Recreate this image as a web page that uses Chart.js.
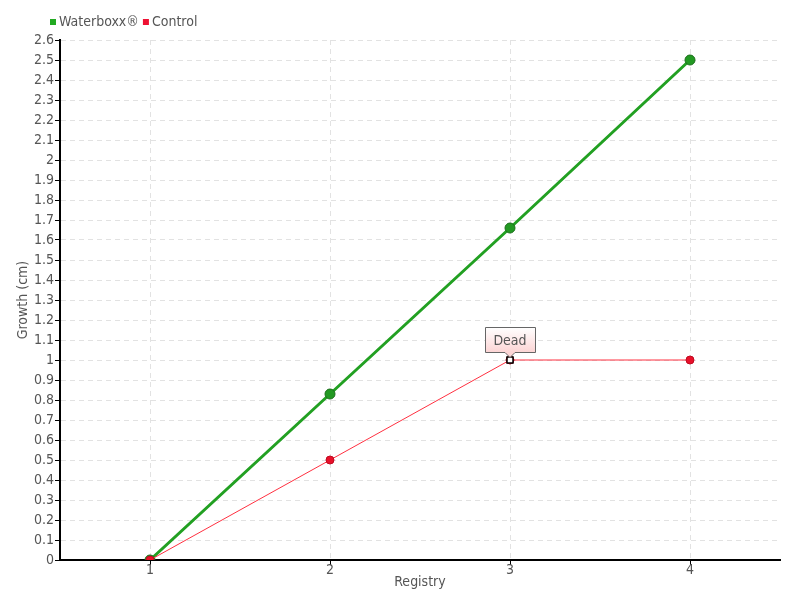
<!DOCTYPE html>
<html>
<head>
<meta charset="utf-8">
<script src="https://cdn.jsdelivr.net/npm/chart.js@4/dist/chart.umd.min.js"></script>
<style>
  html, body { margin: 0; padding: 0; background: #fff; }
  #wrap { width: 800px; height: 600px; }
</style>
</head>
<body>
<div id="wrap"><canvas id="growthChart" width="800" height="600"></canvas></div>
<script>
var registry = ['1', '2', '3', '4'];
var waterboxx = [0, 0.83, 1.66, 2.5];
var control = [0, 0.5, 1, 1];
var yTickValues = [0, 0.1, 0.2, 0.3, 0.4, 0.5, 0.6, 0.7, 0.8, 0.9, 1, 1.1, 1.2, 1.3,
  1.4, 1.5, 1.6, 1.7, 1.8, 1.9, 2, 2.1, 2.2, 2.3, 2.4, 2.5, 2.6];
var yTickLabels = ['0', '0.1', '0.2', '0.3', '0.4', '0.5', '0.6', '0.7', '0.8', '0.9', '1', '1.1', '1.2', '1.3',
  '1.4', '1.5', '1.6', '1.7', '1.8', '1.9', '2', '2.1', '2.2', '2.3', '2.4', '2.5', '2.6'];
var deadIndex = 2;

var FONT = '"DejaVu Sans Condensed", sans-serif';
var GREEN = '#22a022';
var RED = '#ff3040';

var extras = {
  id: 'extras',
  afterDraw: function (chart) {
    var ctx = chart.ctx;
    ctx.save();

    // legend
    ctx.font = '14px ' + FONT;
    ctx.textBaseline = 'middle';
    ctx.fillStyle = '#22aa22';
    ctx.fillRect(50, 19, 6, 6);
    ctx.fillStyle = '#555';
    ctx.fillText('Waterboxx\u00ae', 59, 22);
    var w = ctx.measureText('Waterboxx\u00ae').width;
    ctx.fillStyle = '#ee1133';
    ctx.fillRect(59 + w + 4, 19, 6, 6);
    ctx.fillStyle = '#555';
    ctx.fillText('Control', 59 + w + 13, 22);

    // "Dead" marker and label
    var pt = chart.getDatasetMeta(1).data[deadIndex];
    var px = Math.round(pt.x), py = Math.round(pt.y);
    ctx.fillStyle = '#fff';
    ctx.strokeStyle = '#000';
    ctx.lineWidth = 1.5;
    ctx.fillRect(px - 3, py - 3, 6, 6);
    ctx.strokeRect(px - 3, py - 3, 6, 6);

    var bw = 50, bh = 25;
    var bx = px - 24.5, by = py - 32.5;
    var g = ctx.createLinearGradient(0, by, 0, by + bh);
    g.addColorStop(0, '#ffffff');
    g.addColorStop(1, '#fcd4d4');
    ctx.beginPath();
    ctx.moveTo(bx, by);
    ctx.lineTo(bx + bw, by);
    ctx.lineTo(bx + bw, by + bh);
    ctx.lineTo(px + 5, by + bh);
    ctx.lineTo(px, by + bh + 5);
    ctx.lineTo(px - 5, by + bh);
    ctx.lineTo(bx, by + bh);
    ctx.closePath();
    ctx.fillStyle = g;
    ctx.fill();
    ctx.strokeStyle = '#666';
    ctx.lineWidth = 1;
    ctx.stroke();
    ctx.fillStyle = '#555';
    ctx.textAlign = 'center';
    ctx.fillText('Dead', px, by + bh / 2 + 1);
    ctx.restore();
  }
};

var ctx = document.getElementById('growthChart').getContext('2d');
new Chart(ctx, {
  type: 'line',
  data: {
    labels: registry,
    datasets: [{
      label: 'Waterboxx\u00ae',
      data: waterboxx,
      order: 1,
      borderColor: GREEN,
      borderWidth: 3,
      backgroundColor: '#229922',
      pointBackgroundColor: '#229922',
      pointBorderColor: '#1b6e1b',
      pointBorderWidth: 1,
      pointRadius: 5,
      tension: 0
    }, {
      label: 'Control',
      data: control,
      order: 0,
      borderColor: RED,
      borderWidth: 1,
      backgroundColor: '#e8102a',
      pointBackgroundColor: '#e8102a',
      pointBorderColor: '#c00a20',
      pointBorderWidth: 1,
      pointRadius: 4,
      tension: 0
    }]
  },
  options: {
    responsive: false,
    animation: false,
    layout: { padding: { left: 0, top: 40, right: 20, bottom: 0 } },
    plugins: {
      legend: { display: false },
      tooltip: { enabled: false }
    },
    scales: {
      x: {
        type: 'category',
        offset: true,
        grid: {
          offset: false,
          color: '#e2e2e2',
          tickColor: '#000',
          tickLength: 5
        },
        border: { display: true, color: '#000', width: 2, dash: [5, 4] },
        ticks: { color: '#555', font: { family: FONT, size: 14 }, padding: -3 },
        title: { display: true, text: 'Registry', color: '#555', font: { family: FONT, size: 14 }, padding: { top: 0, bottom: 9 } },
        afterFit: function (s) { s.height = 40; }
      },
      y: {
        min: 0,
        max: 2.6,
        afterBuildTicks: function (axis) {
          axis.ticks = yTickValues.map(function (v) { return { value: v }; });
        },
        grid: {
          color: '#e2e2e2',
          tickColor: '#000',
          tickLength: 5
        },
        border: { display: true, color: '#000', width: 2, dash: [5, 4] },
        ticks: {
          color: '#555',
          font: { family: FONT, size: 14 },
          padding: 1,
          autoSkip: false,
          callback: function (v, i) { return yTickLabels[i]; }
        },
        title: { display: true, text: 'Growth (cm)', color: '#555', font: { family: FONT, size: 14 }, padding: { top: 15, bottom: 0 } },
        afterFit: function (s) { s.width = 60; }
      }
    }
  },
  plugins: [extras]
});
</script>
</body>
</html>
